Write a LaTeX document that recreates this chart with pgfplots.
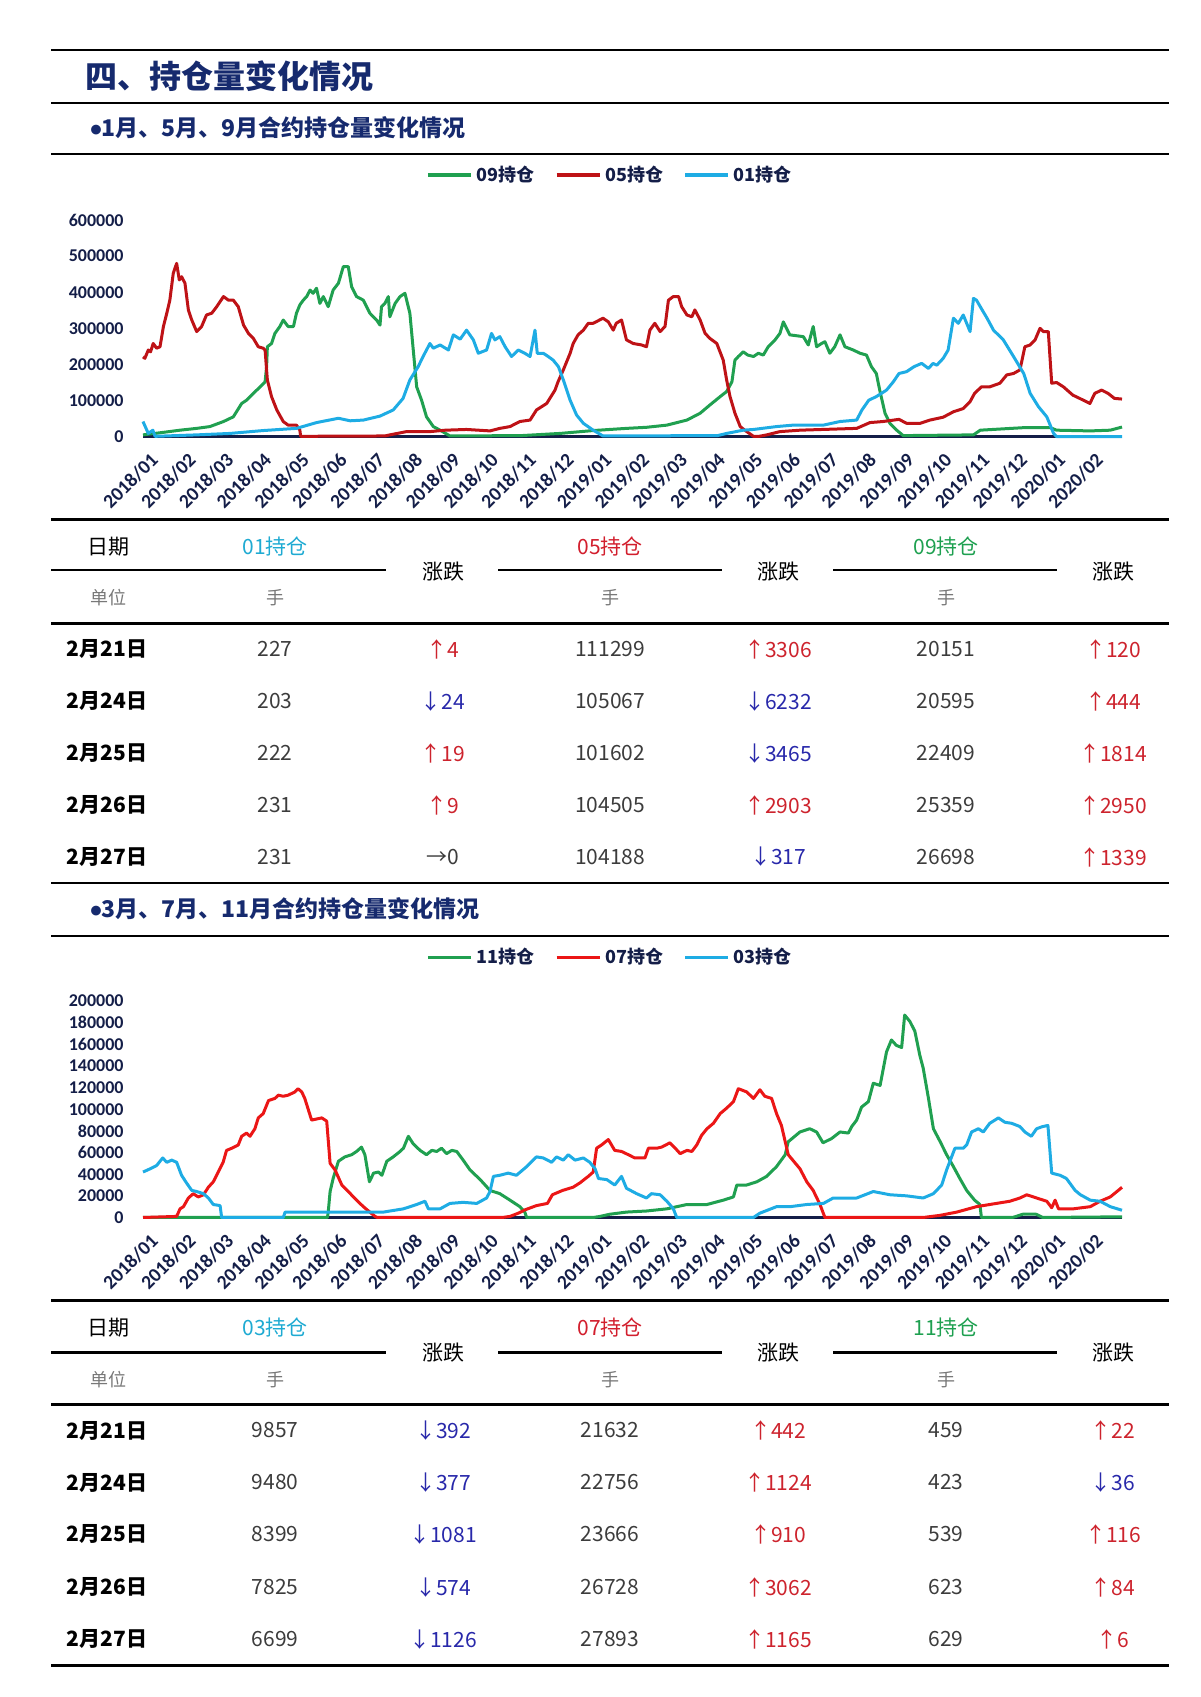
\documentclass[border=0pt]{standalone}
\usepackage{fontspec}
\usepackage{pgfplots}
\pgfplotsset{compat=1.18}
\setmainfont{Noto Sans CJK SC}
\newfontfamily\carlito{Carlito}
\definecolor{titleblue}{RGB}{22,42,110}
\definecolor{ticknavy}{RGB}{20,30,72}
\definecolor{cgreen}{RGB}{32,160,80}
\definecolor{cdred}{RGB}{190,18,22}
\definecolor{cred}{RGB}{235,22,22}
\definecolor{cblue}{RGB}{30,172,228}
\definecolor{tcyan}{RGB}{30,170,210}
\definecolor{tred}{RGB}{210,30,45}
\definecolor{tgreen}{RGB}{30,160,80}
\definecolor{upred}{RGB}{205,35,45}
\definecolor{dnblue}{RGB}{40,40,170}
\definecolor{numgray}{RGB}{60,60,60}
\definecolor{unitgray}{RGB}{120,120,120}

\pgfplotsset{
  mychart/.style={
    anchor=south west, scale only axis, width=489.5pt,
    xmin=0, xmax=25.9, ymin=0,
    scaled y ticks=false, scaled x ticks=false,
    axis x line*=bottom, axis y line*=left,
    x axis line style={draw=ticknavy, line width=1.2pt, -},
    y axis line style={draw=none},
    major tick length=0pt,
    xtick={0,1,2,3,4,5,6,7,8,9,10,11,12,13,14,15,16,17,18,19,20,21,22,23,24,25},
    xticklabels={2018/01,2018/02,2018/03,2018/04,2018/05,2018/06,2018/07,2018/08,2018/09,2018/10,2018/11,2018/12,2019/01,2019/02,2019/03,2019/04,2019/05,2019/06,2019/07,2019/08,2019/09,2019/10,2019/11,2019/12,2020/01,2020/02},
    yticklabel style={font=\carlito\bfseries\fontsize{9}{9}\selectfont, text=ticknavy, anchor=east, inner sep=0pt, xshift=-9.5pt},
    xticklabel style={font=\carlito\bfseries\fontsize{9.8}{9.8}\selectfont, text=ticknavy, rotate=45, anchor=north east, inner sep=0pt, yshift=-7.5pt, xshift=-3pt},
    clip=false,
    legend columns=3,
    legend style={anchor=center, draw=none, fill=none,
      font=\bfseries\fontsize{9}{9}\selectfont, text=ticknavy,
      /tikz/every even column/.append style={column sep=8pt},
      legend cell align=left},
    legend image code/.code={\draw[##1, line width=1.8pt] (0pt,0pt) -- (21.5pt,0pt);},
    every axis plot/.append style={line width=1.5pt, line join=round, no marks},
  }
}

\begin{document}
\begin{tikzpicture}
\begin{scope}[x=0.5pt, y=-0.5pt, shift={(0pt,848.5pt)}]
\path[use as bounding box] (0,0) rectangle (1200,1697);
% rules
\draw[line width=1.4pt] (51,50) -- (1169,50);
\draw[line width=1.4pt] (51,103) -- (1169,103);
\draw[line width=1.4pt] (51,154) -- (1169,154);
\node[anchor=west, inner sep=0pt, text=titleblue, font=\bfseries\fontsize{16}{16}\selectfont] at (85,76) {四、持仓量变化情况};
\node[anchor=west, inner sep=0pt, text=titleblue, font=\bfseries\fontsize{11.5}{11.5}\selectfont] at (90,128) {{\carlito\bfseries •}1月、5月、9月合约持仓量变化情况};
% table 1 rules
\draw[line width=1.4pt] (51,519.4) -- (1169,519.4);
\draw[line width=1.2pt] (51,570.3) -- (386,570.3);
\draw[line width=1.2pt] (498,570.3) -- (722,570.3);
\draw[line width=1.2pt] (833,570.3) -- (1057,570.3);
\draw[line width=1.4pt] (51,623.3) -- (1169,623.3);
\draw[line width=1.4pt] (51,883) -- (1169,883);
\node[anchor=west, inner sep=0pt, text=titleblue, font=\bfseries\fontsize{11.5}{11.5}\selectfont] at (90,909) {{\carlito\bfseries •}3月、7月、11月合约持仓量变化情况};
\draw[line width=1.4pt] (51,936) -- (1169,936);
% table 2 rules
\draw[line width=1.4pt] (51,1300.7) -- (1169,1300.7);
\draw[line width=1.2pt] (51,1352.7) -- (386,1352.7);
\draw[line width=1.2pt] (498,1352.7) -- (722,1352.7);
\draw[line width=1.2pt] (833,1352.7) -- (1057,1352.7);
\draw[line width=1.4pt] (51,1404.6) -- (1169,1404.6);
\draw[line width=1.4pt] (51,1665.4) -- (1169,1665.4);

\tikzset{hd/.style={font=\fontsize{10.5}{10.5}\selectfont, inner sep=0pt},
  un/.style={font=\fontsize{9}{9}\selectfont, text=unitgray, inner sep=0pt},
  dt/.style={font=\bfseries\fontsize{10.5}{10.5}\selectfont, inner sep=0pt},
  nm/.style={font=\fontsize{10.5}{10.5}\selectfont, text=numgray, inner sep=0pt},
  up/.style={font=\fontsize{10.5}{10.5}\selectfont, text=upred, inner sep=0pt},
  dn/.style={font=\fontsize{10.5}{10.5}\selectfont, text=dnblue, inner sep=0pt},
  fl/.style={font=\fontsize{10.5}{10.5}\selectfont, text=numgray, inner sep=0pt}}

% table 1 header
\node[hd] at (108,546.5) {日期};
\node[hd, text=tcyan] at (275,546.5) {01持仓};
\node[hd, text=tred] at (610,546.5) {05持仓};
\node[hd, text=tgreen] at (946,546.5) {09持仓};
\node[hd] at (443,571.3) {涨跌};
\node[hd] at (778,571.3) {涨跌};
\node[hd] at (1113,571.3) {涨跌};
\node[un] at (108,597.3) {单位};
\node[un] at (275,597.3) {手};
\node[un] at (610,597.3) {手};
\node[un] at (946,597.3) {手};
% table 1 rows
\node[dt] at (107,649.3) {2月21日};
\node[nm] at (275,649.3) {227};
\node[up] at (443,649.3) {↑4};
\node[nm] at (610,649.3) {111299};
\node[up] at (778,649.3) {↑3306};
\node[nm] at (946,649.3) {20151};
\node[up] at (1113,649.3) {↑120};

\node[dt] at (107,701.2) {2月24日};
\node[nm] at (275,701.2) {203};
\node[dn] at (443,701.2) {↓24};
\node[nm] at (610,701.2) {105067};
\node[dn] at (778,701.2) {↓6232};
\node[nm] at (946,701.2) {20595};
\node[up] at (1113,701.2) {↑444};

\node[dt] at (107,753.1) {2月25日};
\node[nm] at (275,753.1) {222};
\node[up] at (443,753.1) {↑19};
\node[nm] at (610,753.1) {101602};
\node[dn] at (778,753.1) {↓3465};
\node[nm] at (946,753.1) {22409};
\node[up] at (1113,753.1) {↑1814};

\node[dt] at (107,805.1) {2月26日};
\node[nm] at (275,805.1) {231};
\node[up] at (443,805.1) {↑9};
\node[nm] at (610,805.1) {104505};
\node[up] at (778,805.1) {↑2903};
\node[nm] at (946,805.1) {25359};
\node[up] at (1113,805.1) {↑2950};

\node[dt] at (107,857) {2月27日};
\node[nm] at (275,857) {231};
\node[fl] at (443,857) {→0};
\node[nm] at (610,857) {104188};
\node[dn] at (778,857) {↓317};
\node[nm] at (946,857) {26698};
\node[up] at (1113,857) {↑1339};

% table 2 header
\node[hd] at (108,1327.7) {日期};
\node[hd, text=tcyan] at (275,1327.7) {03持仓};
\node[hd, text=tred] at (610,1327.7) {07持仓};
\node[hd, text=tgreen] at (946,1327.7) {11持仓};
\node[hd] at (443,1352.7) {涨跌};
\node[hd] at (778,1352.7) {涨跌};
\node[hd] at (1113,1352.7) {涨跌};
\node[un] at (108,1379.7) {单位};
\node[un] at (275,1379.7) {手};
\node[un] at (610,1379.7) {手};
\node[un] at (946,1379.7) {手};
% table 2 rows
\node[dt] at (107,1430.5) {2月21日};
\node[nm] at (275,1430.5) {9857};
\node[dn] at (443,1430.5) {↓392};
\node[nm] at (610,1430.5) {21632};
\node[up] at (778,1430.5) {↑442};
\node[nm] at (946,1430.5) {459};
\node[up] at (1113,1430.5) {↑22};

\node[dt] at (107,1482.5) {2月24日};
\node[nm] at (275,1482.5) {9480};
\node[dn] at (443,1482.5) {↓377};
\node[nm] at (610,1482.5) {22756};
\node[up] at (778,1482.5) {↑1124};
\node[nm] at (946,1482.5) {423};
\node[dn] at (1113,1482.5) {↓36};

\node[dt] at (107,1534.4) {2月25日};
\node[nm] at (275,1534.4) {8399};
\node[dn] at (443,1534.4) {↓1081};
\node[nm] at (610,1534.4) {23666};
\node[up] at (778,1534.4) {↑910};
\node[nm] at (946,1534.4) {539};
\node[up] at (1113,1534.4) {↑116};

\node[dt] at (107,1587.4) {2月26日};
\node[nm] at (275,1587.4) {7825};
\node[dn] at (443,1587.4) {↓574};
\node[nm] at (610,1587.4) {26728};
\node[up] at (778,1587.4) {↑3062};
\node[nm] at (946,1587.4) {623};
\node[up] at (1113,1587.4) {↑84};

\node[dt] at (107,1639.4) {2月27日};
\node[nm] at (275,1639.4) {6699};
\node[dn] at (443,1639.4) {↓1126};
\node[nm] at (610,1639.4) {27893};
\node[up] at (778,1639.4) {↑1165};
\node[nm] at (946,1639.4) {629};
\node[up] at (1113,1639.4) {↑6};

\coordinate (A1) at (143,436.7);
\coordinate (A2) at (143,1217.5);
\end{scope}

% ---------- chart 1 ----------
\begin{axis}[mychart, at={(A1)}, height=108.35pt, ymax=600000,
  ytick={0,100000,200000,300000,400000,500000,600000},
  yticklabels={0,100000,200000,300000,400000,500000,600000},
  legend style={at={(0.478,1.208)}}]
\addplot[cgreen] coordinates {(0,5000)(0.54,12000)(0.98,18000)(1.42,23000)(1.77,28000)(2.13,42000)(2.39,55000)(2.61,92000)(2.74,101000)(2.92,120000)(3.1,138000)(3.23,152000)(3.27,194000)(3.29,249000)(3.4,258000)(3.49,286000)(3.62,305000)(3.71,323000)(3.84,305000)(3.98,305000)(4.06,342000)(4.15,365000)(4.24,378000)(4.33,388000)(4.42,406000)(4.5,397000)(4.59,411000)(4.68,369000)(4.77,388000)(4.9,360000)(5.03,406000)(5.17,425000)(5.3,471000)(5.43,471000)(5.52,415000)(5.65,388000)(5.83,378000)(6.0,342000)(6.18,323000)(6.27,309000)(6.31,360000)(6.4,369000)(6.49,388000)(6.53,332000)(6.67,369000)(6.8,388000)(6.93,397000)(7.06,342000)(7.15,240000)(7.24,138000)(7.37,101000)(7.5,55000)(7.68,28000)(7.86,18000)(8.12,2000)(10.0,3000)(11.03,9000)(11.91,17000)(12.79,23000)(13.32,26000)(13.86,32000)(14.39,46000)(14.74,65000)(15.0,88000)(15.27,111000)(15.44,125000)(15.58,152000)(15.66,212000)(15.75,222000)(15.88,235000)(16.0,226000)(16.15,222000)(16.28,231000)(16.41,226000)(16.54,249000)(16.72,268000)(16.85,286000)(16.94,318000)(17.11,282000)(17.47,277000)(17.6,254000)(17.73,305000)(17.82,249000)(17.95,258000)(18.04,263000)(18.17,231000)(18.3,249000)(18.44,282000)(18.57,249000)(18.79,240000)(18.97,231000)(19.14,226000)(19.27,194000)(19.4,175000)(19.49,129000)(19.63,65000)(19.76,37000)(19.94,18000)(20.11,3000)(21.97,5000)(22.15,18000)(23.3,25000)(24.0,25000)(24.17,18000)(25.06,16000)(25.59,18000)(25.9,26698)};
\addlegendentry{09持仓}
\addplot[cdred] coordinates {(0,221000)(0.05,217000)(0.14,240000)(0.2,235000)(0.27,258000)(0.36,245000)(0.45,249000)(0.54,305000)(0.63,342000)(0.71,378000)(0.8,452000)(0.89,480000)(0.96,434000)(1.02,443000)(1.11,425000)(1.2,351000)(1.29,323000)(1.42,291000)(1.55,305000)(1.68,337000)(1.82,342000)(1.95,360000)(2.13,388000)(2.26,378000)(2.39,378000)(2.52,360000)(2.66,309000)(2.79,286000)(2.92,272000)(3.05,249000)(3.18,245000)(3.23,240000)(3.29,157000)(3.4,111000)(3.54,74000)(3.71,42000)(3.84,32000)(4.06,32000)(4.15,18000)(4.17,1000)(6.4,2000)(6.53,5000)(6.97,14000)(7.59,14000)(8.0,18000)(8.56,20000)(9.18,16000)(9.44,23000)(9.71,28000)(9.97,42000)(10.24,46000)(10.41,74000)(10.68,92000)(10.9,129000)(10.98,152000)(11.12,185000)(11.3,231000)(11.38,258000)(11.51,282000)(11.65,295000)(11.78,314000)(11.91,314000)(12.17,328000)(12.31,318000)(12.44,295000)(12.52,314000)(12.66,323000)(12.79,268000)(12.97,258000)(13.19,254000)(13.32,249000)(13.41,295000)(13.54,314000)(13.68,291000)(13.81,305000)(13.9,378000)(14.03,388000)(14.17,388000)(14.25,360000)(14.39,337000)(14.52,332000)(14.6,351000)(14.74,323000)(14.87,286000)(15.0,272000)(15.18,258000)(15.35,212000)(15.44,157000)(15.53,111000)(15.66,65000)(15.8,28000)(15.92,18000)(16.15,1000)(16.3,1000)(16.5,5000)(16.85,14000)(17.38,18000)(18.88,23000)(19.23,39000)(19.58,42000)(20.0,48000)(20.2,37000)(20.56,37000)(20.82,46000)(21.17,54000)(21.44,69000)(21.7,78000)(21.88,97000)(22.0,120000)(22.18,138000)(22.4,138000)(22.67,148000)(22.85,171000)(23.03,175000)(23.2,185000)(23.33,249000)(23.47,254000)(23.6,268000)(23.73,300000)(23.82,291000)(23.95,291000)(24.04,148000)(24.17,150000)(24.35,138000)(24.6,115000)(24.78,106000)(25.05,92000)(25.18,120000)(25.36,129000)(25.53,120000)(25.7,106000)(25.9,104188)};
\addlegendentry{05持仓}
\addplot[cblue] coordinates {(0,42000)(0.14,9000)(0.26,18000)(0.32,1000)(1.42,5000)(2.3,9000)(3.18,17000)(4.06,23000)(4.59,39000)(5.17,51000)(5.48,44000)(5.83,46000)(6.27,57000)(6.62,74000)(6.88,106000)(7.06,157000)(7.28,194000)(7.41,222000)(7.59,258000)(7.68,245000)(7.86,254000)(8.08,240000)(8.21,282000)(8.39,270000)(8.56,295000)(8.74,268000)(8.87,231000)(9.09,240000)(9.22,286000)(9.31,268000)(9.44,277000)(9.58,249000)(9.75,222000)(9.93,240000)(10.1,231000)(10.24,222000)(10.37,295000)(10.43,231000)(10.59,231000)(10.72,222000)(10.85,212000)(10.99,194000)(11.12,157000)(11.3,101000)(11.47,60000)(11.65,37000)(11.91,18000)(12.17,2000)(15.2,3000)(15.44,9000)(15.88,18000)(16.15,20000)(16.76,28000)(17.2,32000)(18.0,32000)(18.44,42000)(18.88,46000)(19.02,74000)(19.2,101000)(19.4,111000)(19.67,129000)(19.85,152000)(20.0,175000)(20.2,180000)(20.4,194000)(20.6,203000)(20.78,189000)(20.9,203000)(21.0,198000)(21.17,217000)(21.3,240000)(21.44,328000)(21.57,314000)(21.7,337000)(21.88,291000)(21.97,383000)(22.05,378000)(22.2,351000)(22.33,328000)(22.5,295000)(22.76,268000)(23.03,222000)(23.3,175000)(23.47,120000)(23.69,83000)(23.91,55000)(24.09,9000)(24.17,300)(25.9,231)};
\addlegendentry{01持仓}
\end{axis}

% ---------- chart 2 ----------
\begin{axis}[mychart, at={(A2)}, height=108.25pt, ymax=200000,
  ytick={0,20000,40000,60000,80000,100000,120000,140000,160000,180000,200000},
  yticklabels={0,20000,40000,60000,80000,100000,120000,140000,160000,180000,200000},
  legend style={at={(0.478,1.2)}}]
\addplot[cgreen] coordinates {(0,0)(4.88,0)(4.9,5000)(4.95,24000)(5.03,36000)(5.17,52000)(5.34,56000)(5.52,58000)(5.65,61000)(5.78,65000)(5.87,58000)(5.99,33000)(6.1,41000)(6.23,42000)(6.32,39000)(6.45,52000)(6.62,56000)(6.8,61000)(6.89,64000)(7.02,75000)(7.15,68000)(7.33,62000)(7.5,58000)(7.64,62000)(7.77,61000)(7.9,64000)(8.03,59000)(8.17,62000)(8.3,61000)(8.47,53000)(8.65,44000)(8.92,35000)(9.18,25000)(9.44,22000)(9.71,16000)(9.97,10000)(10.1,5000)(10.15,0)(11.91,0)(12.09,1000)(12.35,3000)(12.79,5000)(13.32,6000)(13.86,8000)(14.39,12000)(14.92,12000)(15.35,16000)(15.62,19000)(15.71,30000)(15.97,30000)(16.24,33000)(16.5,38000)(16.76,47000)(16.99,58000)(17.07,70000)(17.38,79000)(17.64,82000)(17.82,79000)(17.99,69000)(18.22,73000)(18.44,79000)(18.66,78000)(18.75,84000)(18.88,90000)(19.01,102000)(19.19,107000)(19.32,124000)(19.5,122000)(19.67,153000)(19.8,164000)(19.93,159000)(20.07,157000)(20.15,187000)(20.29,181000)(20.42,172000)(20.55,150000)(20.64,138000)(20.78,110000)(20.91,82000)(21.09,70000)(21.26,58000)(21.44,47000)(21.61,36000)(21.79,25000)(22.0,16000)(22.14,12000)(22.18,0)(23.0,0)(23.1,1000)(23.27,3000)(23.63,3000)(23.8,0)(25.9,629)};
\addlegendentry{11持仓}
\addplot[cred] coordinates {(0,0)(0.89,1000)(0.98,8000)(1.07,10000)(1.2,18000)(1.33,22000)(1.46,19000)(1.6,21000)(1.73,28000)(1.86,33000)(1.99,42000)(2.12,51000)(2.21,62000)(2.35,64000)(2.52,67000)(2.61,75000)(2.74,78000)(2.83,75000)(2.96,82000)(3.05,92000)(3.18,96000)(3.32,108000)(3.49,110000)(3.58,113000)(3.71,112000)(3.84,113000)(4.02,116000)(4.1,119000)(4.2,116000)(4.28,110000)(4.46,90000)(4.73,92000)(4.86,89000)(4.95,50000)(5.08,44000)(5.26,30000)(5.43,24000)(5.65,16000)(5.83,10000)(6.0,5000)(6.14,1000)(6.2,0)(9.5,0)(9.71,1000)(9.93,4000)(10.1,7000)(10.41,11000)(10.7,13000)(10.83,21000)(11.1,25000)(11.38,28000)(11.56,32000)(11.78,38000)(11.91,42000)(12.0,64000)(12.13,67000)(12.31,72000)(12.48,62000)(12.66,61000)(12.84,58000)(13.01,55000)(13.28,55000)(13.37,64000)(13.59,64000)(13.72,65000)(13.94,69000)(14.08,64000)(14.21,59000)(14.39,62000)(14.52,61000)(14.65,67000)(14.78,76000)(14.92,82000)(15.09,87000)(15.27,96000)(15.44,101000)(15.62,107000)(15.75,119000)(15.97,116000)(16.15,110000)(16.32,118000)(16.45,112000)(16.63,110000)(16.76,96000)(16.89,85000)(17.07,58000)(17.38,45000)(17.56,33000)(17.73,25000)(17.91,12000)(18.04,0)(20.64,0)(21.09,2000)(21.53,5000)(22.05,10000)(22.4,12000)(22.93,15000)(23.2,18000)(23.38,21000)(23.64,18000)(23.91,15000)(24.04,9000)(24.13,16000)(24.22,8000)(24.61,8000)(25.06,10000)(25.32,15000)(25.59,19000)(25.8,25000)(25.9,27893)};
\addlegendentry{07持仓}
\addplot[cblue] coordinates {(0,42000)(0.19,45000)(0.36,48000)(0.52,55000)(0.63,51000)(0.76,53000)(0.89,51000)(1.02,39000)(1.15,32000)(1.29,25000)(1.42,24000)(1.6,22000)(1.73,18000)(1.86,12000)(2.04,11000)(2.08,0)(3.71,0)(3.76,5000)(4.5,5000)(5.83,5000)(6.36,5000)(6.89,8000)(7.24,12000)(7.46,15000)(7.55,8000)(7.86,8000)(8.12,13000)(8.47,14000)(8.83,13000)(9.09,18000)(9.18,24000)(9.27,38000)(9.44,39000)(9.66,41000)(9.88,39000)(10.15,47000)(10.41,56000)(10.59,55000)(10.81,51000)(10.94,56000)(11.12,53000)(11.25,58000)(11.43,53000)(11.65,55000)(11.82,51000)(11.96,45000)(12.05,36000)(12.27,35000)(12.48,30000)(12.66,38000)(12.79,27000)(13.06,22000)(13.32,18000)(13.45,22000)(13.68,21000)(13.86,15000)(14.03,8000)(14.12,0)(16.15,0)(16.32,4000)(16.76,10000)(17.12,10000)(17.56,12000)(18.0,13000)(18.26,18000)(18.88,18000)(19.32,24000)(19.76,21000)(20.2,20000)(20.64,18000)(20.91,22000)(21.13,30000)(21.26,44000)(21.48,64000)(21.7,64000)(21.79,67000)(21.92,79000)(22.1,82000)(22.23,79000)(22.4,87000)(22.63,92000)(22.8,88000)(22.98,87000)(23.2,84000)(23.33,79000)(23.5,75000)(23.64,82000)(23.8,84000)(23.94,85000)(24.04,41000)(24.26,39000)(24.43,36000)(24.66,25000)(24.8,21000)(25.06,16000)(25.32,15000)(25.59,10000)(25.9,6699)};
\addlegendentry{03持仓}
\end{axis}
\end{tikzpicture}
\end{document}
